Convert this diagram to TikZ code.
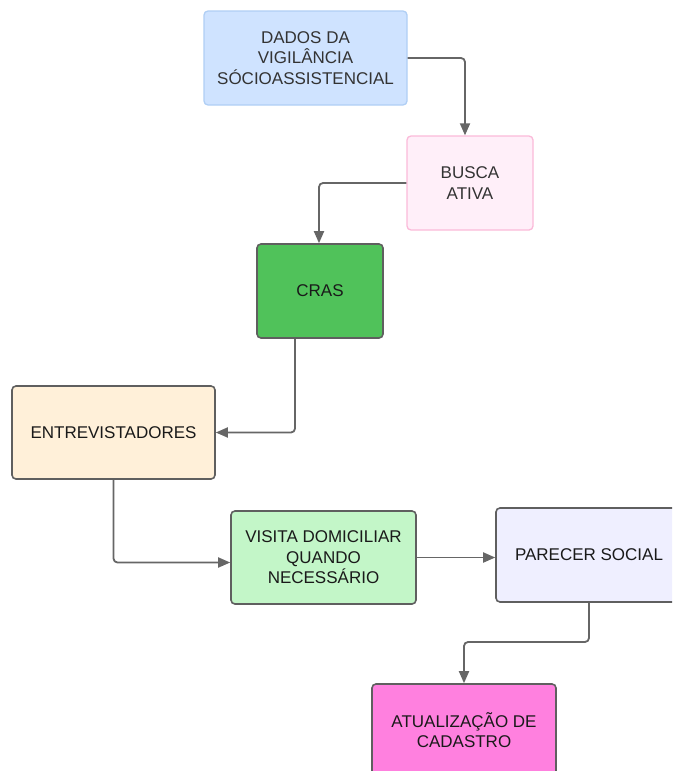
\documentclass[tikz,border=0pt]{standalone}
\usepackage{fontspec}
\setmainfont{Liberation Sans}
\usetikzlibrary{arrows.meta}
\definecolor{txtgray}{HTML}{333333}
\definecolor{txtdark}{HTML}{1A1A1A}
\definecolor{edgegray}{HTML}{5F5F5F}
\definecolor{linkgray}{HTML}{666666}
\definecolor{blueFill}{HTML}{CFE3FF}
\definecolor{blueEdge}{HTML}{B0CFF5}
\definecolor{pinkFill}{HTML}{FFEFF9}
\definecolor{pinkEdge}{HTML}{FBBAD9}
\definecolor{greenFill}{HTML}{50C25A}
\definecolor{sandFill}{HTML}{FFF0D9}
\definecolor{mintFill}{HTML}{C3F6C8}
\definecolor{lilacFill}{HTML}{EFEFFF}
\definecolor{magentaFill}{HTML}{FF80DF}
\tikzset{
  flowbox/.style={rectangle, rounded corners=4pt, line width=1.6pt, draw=edgegray,
    align=center, inner sep=2pt, text=txtdark,
    font=\fontsize{17}{20.5}\selectfont},
  link/.style={draw=linkgray, line width=1.8pt, rounded corners=4pt,
    -{Triangle[length=12pt,width=10pt]}}
}
\begin{document}
\begin{tikzpicture}[x=1pt,y=-1pt]
\useasboundingbox (0,0) rectangle (672,771);
\clip (0,0) rectangle (672,771);
\fill[white] (0,0) rectangle (672,771);

\node[flowbox, fill=blueFill, draw=blueEdge, text=txtgray, line width=1.3pt,
      minimum width=203pt, minimum height=94pt] (dados) at (305.5,58)
  {DADOS DA\\VIGILÂNCIA\\SÓCIOASSISTENCIAL};
\node[flowbox, fill=pinkFill, draw=pinkEdge, text=txtgray, line width=1.3pt,
      minimum width=126pt, minimum height=94pt] (busca) at (470,183)
  {BUSCA\\ATIVA};
\node[flowbox, fill=greenFill,
      minimum width=126pt, minimum height=94pt] (cras) at (320,291) {CRAS};
\node[flowbox, fill=sandFill,
      minimum width=203pt, minimum height=93pt] (entrev) at (113.5,432.5)
  {ENTREVISTADORES};
\node[flowbox, fill=mintFill,
      minimum width=185pt, minimum height=93pt] (visita) at (323.5,557.5)
  {VISITA DOMICILIAR\\QUANDO\\NECESSÁRIO};
\node[flowbox, fill=lilacFill,
      minimum width=186pt, minimum height=94pt] (parecer) at (589,555)
  {PARECER SOCIAL};
\node[flowbox, fill=magentaFill,
      minimum width=184pt, minimum height=92pt] (atual) at (464,730)
  {ATUALIZAÇÃO DE\\CADASTRO};

\draw[link] (dados.east) -| ([xshift=-5pt]busca.north);
\draw[link] (busca.west) -| ([xshift=-1pt]cras.north);
\draw[link] ([xshift=-25pt]cras.south) |- (entrev.east);
\draw[link] (entrev.south) |- ([yshift=-5pt]visita.west);
\draw[link] (visita.east) -- (visita.east -| parecer.west);
\coordinate (bend) at (589,642);
\draw[link] (parecer.south) -- (bend) -| (atual.north);
\end{tikzpicture}
\end{document}
